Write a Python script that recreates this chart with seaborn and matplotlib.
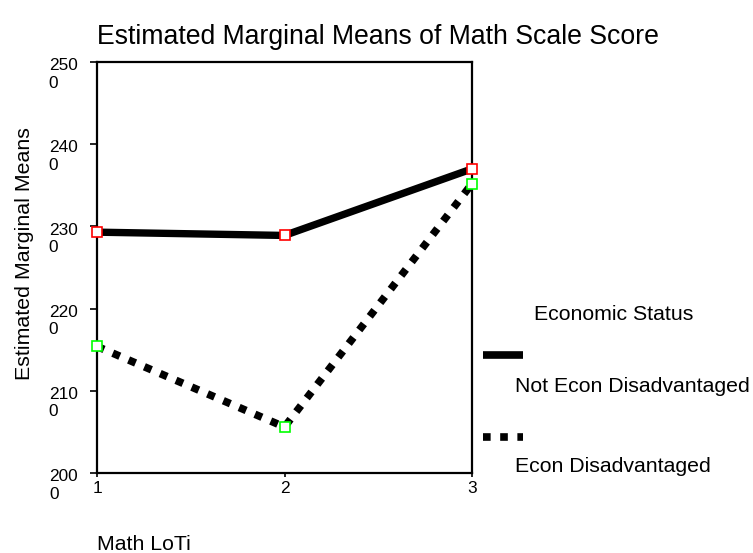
import numpy as np
import pandas as pd
import seaborn as sb
import matplotlib.pyplot as plt
from matplotlib.lines import Line2D
from matplotlib.transforms import ScaledTranslation

# Dados (medias marginais estimadas)
loti = [1, 2, 3]
not_econ = [2293, 2289, 2370]
econ = [2154, 2056, 2352]
y_ticks = [2000, 2100, 2200, 2300, 2400, 2500]
y_tick_labels = ['200\n0', '210\n0', '220\n0', '230\n0', '240\n0', '250\n0']
groups = ['Not Econ Disadvantaged', 'Econ Disadvantaged']

sb.set_style('white')
plt.rcParams['font.family'] = ['Liberation Sans', 'DejaVu Sans']
plt.rcParams['text.color'] = 'black'
plt.rcParams['axes.labelcolor'] = 'black'
plt.rcParams['xtick.color'] = 'black'
plt.rcParams['ytick.color'] = 'black'

fig = plt.figure(figsize=(7.53, 5.53), dpi=100)
ax = fig.add_axes([97 / 753, 1 - 473 / 553, 375 / 753, 411 / 553])

# Linha continua: nao desfavorecidos
sb.lineplot(x=loti, y=not_econ, ax=ax, color='black', lw=5.3,
            marker='s', ms=7, mfc='white', mec='red', mew=1.2,
            clip_on=False, zorder=3)
# Linha pontilhada: desfavorecidos
sb.lineplot(x=loti, y=econ, ax=ax, color='black', lw=5.5,
            linestyle=(0, (1, 1.25)), dash_capstyle='butt',
            marker='s', ms=7, mfc='white', mec='#00ff00', mew=1.2,
            clip_on=False, zorder=3)

ax.set_xlim(1, 3)
ax.set_ylim(2000, 2500)
ax.set_xticks(loti, [str(v) for v in loti], fontsize=12.4)
ax.set_yticks(y_ticks, y_tick_labels, fontsize=12.4,
              va='center', multialignment='left')
ax.tick_params(axis='y', direction='out', length=5, width=1.2, pad=9, left=True)
ax.tick_params(axis='x', direction='out', length=3, width=1.2, pad=3, bottom=True)
# desce os rotulos para a primeira linha ficar na altura do tick
off = ScaledTranslation(0, -0.125, fig.dpi_scale_trans)
for lab in ax.get_yticklabels():
    lab.set_transform(lab.get_transform() + off)
for s in ax.spines.values():
    s.set_color('black')
    s.set_linewidth(1.6)

ax.set_ylabel('Estimated Marginal Means', fontsize=15.4)
ax.yaxis.set_label_coords(-0.167, 0.533)
ax.set_xlabel('Math LoTi', fontsize=15.3, ha='left')
ax.xaxis.set_label_coords(0.0, -0.15)

fig.suptitle('Estimated Marginal Means of Math Scale Score',
             x=0.502, y=1 - 36.5 / 553, va='center', fontsize=19.2)

# Legenda montada a mao (titulo, amostra de linha e rotulo abaixo)
fig.text(614 / 753, 1 - 315 / 553, 'Economic Status', ha='center', va='center', fontsize=15.3)
fig.add_artist(Line2D([483 / 753, 523 / 753], [1 - 355 / 553] * 2,
                      transform=fig.transFigure, color='black', lw=5.5,
                      solid_capstyle='butt'))
fig.text(515 / 753, 1 - 387 / 553, groups[0], ha='left', va='center', fontsize=15.3)
fig.add_artist(Line2D([483 / 753, 523 / 753], [1 - 437 / 553] * 2,
                      transform=fig.transFigure, color='black', lw=5.5,
                      linestyle=(0, (1, 1.25)), dash_capstyle='butt'))
fig.text(515 / 753, 1 - 467 / 553, groups[1], ha='left', va='center', fontsize=15.3)

plt.savefig('out.png', dpi=100)
